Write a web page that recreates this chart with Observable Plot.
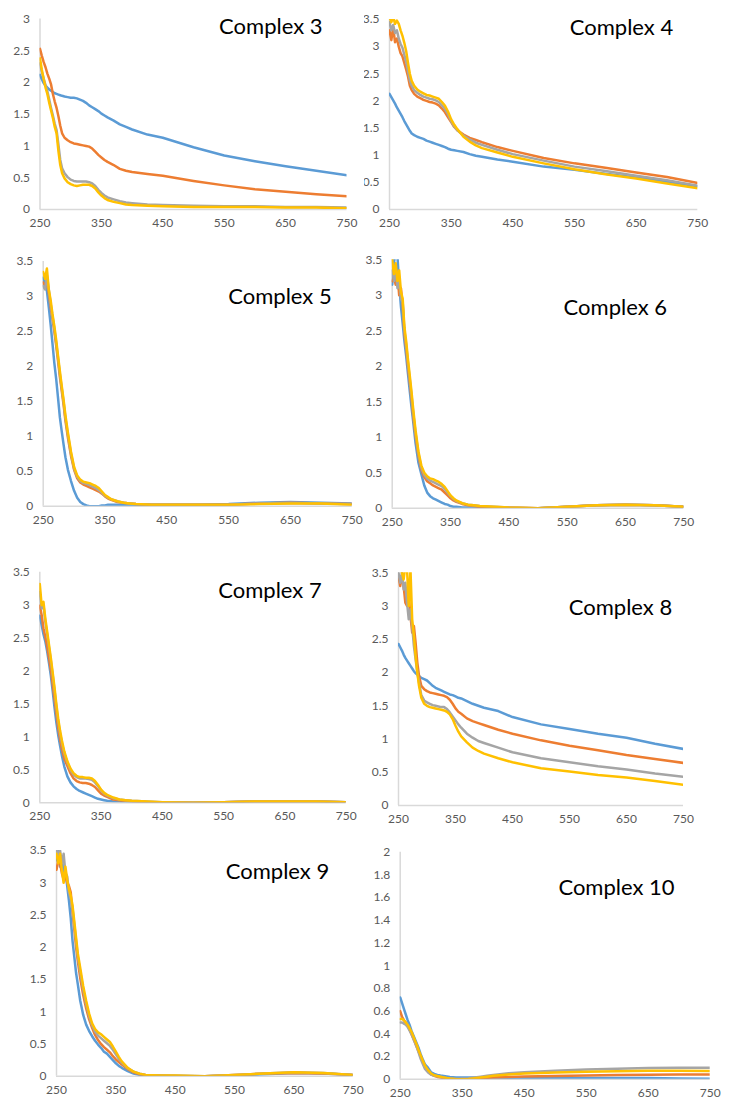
<!DOCTYPE html>
<html><head><meta charset="utf-8">
<script src="https://cdn.jsdelivr.net/npm/d3@7"></script>
<script src="https://cdn.jsdelivr.net/npm/@observablehq/plot@0.6"></script>
<style>
body{margin:0;background:#fff;}
#fig{position:relative;width:729px;height:1110px;overflow:hidden;background:#fff;}
.panel{position:absolute;}
#titles{position:absolute;left:0;top:0;pointer-events:none;}
</style></head><body><div id="fig"></div>
<script>
// ---------- data ----------
const WL = [250,253,256,259,262,265,268,271,274,277,280,283,286,290,295,300,305,310,315,320,325,330,335,340,345,350,355,360,370,380,390,400,425,450,500,550,600,650,700,750];
const xTicks = [250,350,450,550,650,750];
const yTicks3 = [0,0.5,1,1.5,2,2.5,3];
const yTicks35 = [0,0.5,1,1.5,2,2.5,3,3.5];
const yTicks2 = [0,0.2,0.4,0.6,0.8,1,1.2,1.4,1.6,1.8,2];
const titles = ["Complex 3","Complex 4","Complex 5","Complex 6","Complex 7","Complex 8","Complex 9","Complex 10"];

const c3Blue   = [2.12,2.05,1.99,1.95,1.92,1.89,1.87,1.85,1.83,1.82,1.81,1.80,1.79,1.78,1.77,1.76,1.76,1.75,1.73,1.71,1.68,1.64,1.61,1.58,1.55,1.51,1.48,1.45,1.40,1.34,1.30,1.26,1.18,1.13,0.98,0.85,0.76,0.68,0.61,0.54];
const c3Orange = [2.53,2.42,2.32,2.24,2.14,2.06,1.97,1.82,1.70,1.60,1.47,1.32,1.20,1.13,1.09,1.06,1.04,1.03,1.02,1.01,1.00,0.99,0.96,0.91,0.86,0.82,0.78,0.75,0.70,0.64,0.61,0.59,0.56,0.53,0.45,0.38,0.32,0.28,0.24,0.21];
const c3Grey   = [2.30,2.17,2.06,1.96,1.86,1.73,1.60,1.48,1.35,1.25,1.02,0.78,0.65,0.57,0.51,0.47,0.45,0.44,0.44,0.44,0.44,0.43,0.41,0.37,0.31,0.26,0.22,0.19,0.16,0.13,0.11,0.10,0.08,0.07,0.06,0.05,0.05,0.04,0.04,0.03];
const c3Yellow = [2.38,2.20,2.05,1.92,1.82,1.68,1.56,1.44,1.30,1.20,0.92,0.70,0.57,0.49,0.43,0.40,0.38,0.37,0.38,0.39,0.39,0.39,0.37,0.33,0.27,0.22,0.18,0.15,0.12,0.10,0.08,0.07,0.06,0.05,0.04,0.04,0.04,0.03,0.03,0.02];

const c4Blue   = [2.13,2.07,2.01,1.95,1.88,1.82,1.76,1.70,1.63,1.57,1.51,1.45,1.40,1.37,1.34,1.32,1.30,1.27,1.25,1.23,1.21,1.19,1.17,1.15,1.12,1.10,1.09,1.08,1.06,1.02,0.99,0.97,0.92,0.88,0.79,0.73,0.66,0.59,0.51,0.43];
const c4Orange = [3.30,3.12,3.35,3.08,3.15,3.00,2.88,2.82,2.70,2.58,2.45,2.28,2.20,2.13,2.08,2.05,2.02,2.00,1.98,1.97,1.95,1.92,1.86,1.79,1.70,1.61,1.52,1.46,1.38,1.32,1.28,1.24,1.15,1.08,0.95,0.85,0.77,0.68,0.60,0.49];
const c4Grey   = [3.45,3.30,3.40,3.25,3.30,3.15,3.05,2.98,2.85,2.72,2.55,2.38,2.28,2.20,2.15,2.11,2.08,2.06,2.04,2.03,2.01,1.98,1.92,1.85,1.75,1.63,1.53,1.46,1.36,1.29,1.23,1.19,1.10,1.02,0.90,0.79,0.71,0.62,0.54,0.44];
const c4Yellow = [3.55,3.45,3.55,3.42,3.48,3.42,3.30,3.20,3.07,2.92,2.70,2.50,2.37,2.28,2.21,2.17,2.14,2.11,2.10,2.08,2.06,2.04,1.98,1.91,1.80,1.66,1.56,1.48,1.34,1.25,1.18,1.13,1.05,0.97,0.85,0.74,0.65,0.57,0.48,0.39];

const c5Blue   = [3.27,3.15,3.08,2.85,2.60,2.33,2.05,1.82,1.55,1.27,1.07,0.88,0.70,0.52,0.36,0.22,0.12,0.06,0.03,0.01,0.00,0.00,0.00,0.00,0.01,0.01,0.02,0.02,0.02,0.02,0.02,0.02,0.02,0.02,0.02,0.03,0.05,0.06,0.05,0.04];
const c5Orange = [3.20,3.12,3.25,3.05,2.85,2.68,2.50,2.30,2.08,1.85,1.65,1.45,1.22,0.98,0.72,0.52,0.40,0.34,0.31,0.29,0.27,0.25,0.23,0.21,0.18,0.14,0.11,0.09,0.06,0.05,0.04,0.03,0.02,0.02,0.02,0.02,0.04,0.05,0.04,0.03];
const c5Grey   = [3.15,3.10,3.30,3.10,2.90,2.72,2.54,2.34,2.12,1.89,1.69,1.49,1.26,1.02,0.75,0.54,0.42,0.36,0.33,0.32,0.30,0.28,0.26,0.23,0.19,0.15,0.12,0.10,0.07,0.05,0.04,0.03,0.02,0.02,0.02,0.02,0.04,0.05,0.04,0.03];
const c5Yellow = [3.35,3.25,3.40,3.10,2.95,2.75,2.58,2.38,2.15,1.93,1.72,1.52,1.30,1.05,0.78,0.56,0.44,0.38,0.35,0.34,0.33,0.31,0.29,0.26,0.21,0.16,0.13,0.10,0.07,0.05,0.04,0.03,0.02,0.02,0.02,0.02,0.03,0.04,0.04,0.02];

const c6Blue   = [3.15,3.45,3.65,3.55,3.15,2.84,2.60,2.35,2.14,1.90,1.66,1.43,1.22,0.92,0.64,0.48,0.32,0.22,0.17,0.14,0.12,0.10,0.08,0.06,0.05,0.03,0.02,0.02,0.01,0.01,0.01,0.01,0.00,0.00,0.00,0.02,0.04,0.05,0.04,0.02];
const c6Orange = [3.20,3.25,3.15,3.30,3.00,3.10,2.85,2.45,2.25,2.00,1.78,1.55,1.30,1.02,0.74,0.54,0.44,0.38,0.35,0.32,0.30,0.28,0.26,0.22,0.18,0.14,0.11,0.09,0.06,0.04,0.03,0.02,0.01,0.01,0.00,0.02,0.04,0.05,0.04,0.02];
const c6Grey   = [3.35,3.20,3.40,3.10,3.25,2.95,2.90,2.50,2.30,2.05,1.83,1.60,1.35,1.06,0.77,0.57,0.47,0.42,0.39,0.37,0.35,0.33,0.31,0.27,0.22,0.17,0.13,0.10,0.07,0.05,0.04,0.03,0.02,0.01,0.00,0.02,0.04,0.05,0.04,0.02];
const c6Yellow = [3.50,3.30,3.45,3.20,3.35,3.05,2.95,2.55,2.35,2.10,1.88,1.65,1.40,1.10,0.80,0.60,0.50,0.45,0.42,0.41,0.39,0.37,0.34,0.30,0.24,0.18,0.14,0.11,0.07,0.05,0.04,0.03,0.02,0.01,0.00,0.02,0.04,0.05,0.04,0.02];

const c7Blue   = [2.84,2.70,2.56,2.45,2.30,2.12,1.93,1.70,1.45,1.22,1.03,0.87,0.72,0.55,0.40,0.31,0.25,0.21,0.18,0.16,0.14,0.12,0.10,0.08,0.06,0.05,0.04,0.03,0.02,0.02,0.01,0.01,0.00,0.00,0.00,0.01,0.02,0.02,0.02,0.01];
const c7Orange = [2.99,2.85,2.65,2.52,2.38,2.20,2.02,1.80,1.58,1.35,1.14,0.97,0.82,0.67,0.56,0.45,0.37,0.33,0.31,0.30,0.30,0.29,0.27,0.24,0.19,0.14,0.11,0.09,0.05,0.04,0.03,0.02,0.01,0.01,0.00,0.01,0.02,0.02,0.02,0.01];
const c7Grey   = [3.20,2.95,3.00,2.75,2.56,2.36,2.16,1.94,1.71,1.46,1.24,1.06,0.91,0.75,0.61,0.50,0.43,0.39,0.37,0.37,0.37,0.36,0.35,0.31,0.25,0.19,0.14,0.11,0.07,0.05,0.04,0.03,0.02,0.01,0.00,0.01,0.02,0.02,0.02,0.01];
const c7Yellow = [3.32,3.00,3.05,2.80,2.60,2.40,2.20,1.98,1.75,1.50,1.28,1.10,0.95,0.78,0.63,0.52,0.45,0.41,0.39,0.39,0.38,0.38,0.37,0.33,0.27,0.20,0.15,0.12,0.08,0.05,0.04,0.03,0.02,0.01,0.00,0.01,0.02,0.02,0.02,0.01];

const c8Blue   = [2.43,2.38,2.33,2.27,2.22,2.18,2.14,2.10,2.06,2.02,1.99,1.97,1.95,1.92,1.90,1.88,1.84,1.80,1.77,1.75,1.73,1.71,1.69,1.67,1.66,1.64,1.62,1.61,1.57,1.53,1.50,1.47,1.42,1.33,1.22,1.15,1.08,1.02,0.93,0.85];
const c8Orange = [3.45,3.30,3.45,3.30,3.05,3.00,3.15,2.85,2.60,2.70,2.45,2.15,1.95,1.80,1.75,1.72,1.70,1.69,1.68,1.67,1.66,1.65,1.63,1.59,1.53,1.46,1.41,1.38,1.31,1.27,1.24,1.21,1.14,1.08,0.98,0.90,0.83,0.76,0.70,0.64];
const c8Grey   = [3.50,3.35,3.50,3.25,3.35,3.05,2.80,2.95,2.70,2.40,2.20,2.00,1.85,1.66,1.58,1.55,1.53,1.51,1.50,1.49,1.48,1.48,1.45,1.40,1.34,1.28,1.22,1.17,1.08,1.02,0.97,0.94,0.87,0.80,0.71,0.65,0.59,0.54,0.48,0.43];
const c8Yellow = [3.55,3.60,3.50,3.40,3.60,3.55,3.00,3.55,2.80,2.55,2.25,2.00,1.80,1.62,1.53,1.50,1.48,1.47,1.46,1.45,1.44,1.43,1.41,1.37,1.30,1.20,1.11,1.04,0.95,0.87,0.82,0.78,0.71,0.65,0.56,0.51,0.46,0.42,0.37,0.31];

const c9Blue   = [3.35,3.50,3.25,3.40,3.10,3.20,2.95,2.72,2.45,2.10,1.85,1.60,1.42,1.17,0.95,0.80,0.70,0.62,0.55,0.49,0.44,0.38,0.35,0.30,0.25,0.20,0.16,0.13,0.08,0.04,0.02,0.01,0.00,0.00,0.00,0.01,0.03,0.05,0.04,0.02];
const c9Orange = [3.20,3.35,3.30,3.15,3.05,3.10,3.00,2.95,2.85,2.55,2.28,2.00,1.78,1.52,1.26,1.05,0.88,0.75,0.64,0.56,0.50,0.45,0.41,0.37,0.31,0.26,0.22,0.18,0.11,0.06,0.03,0.02,0.01,0.00,0.00,0.02,0.04,0.05,0.04,0.02];
const c9Grey   = [3.55,3.40,3.50,3.30,3.45,3.15,3.10,2.85,2.75,2.60,2.35,2.10,1.85,1.62,1.35,1.12,0.93,0.79,0.69,0.63,0.59,0.55,0.51,0.47,0.41,0.34,0.27,0.21,0.12,0.07,0.04,0.02,0.01,0.01,0.00,0.02,0.04,0.06,0.05,0.02];
const c9Yellow = [3.45,3.30,3.45,3.20,3.00,3.25,3.05,2.90,2.80,2.65,2.40,2.15,1.90,1.68,1.40,1.17,0.97,0.82,0.73,0.68,0.65,0.61,0.57,0.53,0.46,0.38,0.30,0.23,0.13,0.07,0.04,0.02,0.01,0.01,0.00,0.02,0.04,0.06,0.05,0.02];

const c10Blue   = [0.72,0.67,0.62,0.57,0.52,0.48,0.43,0.39,0.35,0.31,0.27,0.22,0.18,0.13,0.10,0.06,0.046,0.038,0.032,0.028,0.024,0.02,0.018,0.016,0.015,0.014,0.014,0.014,0.014,0.014,0.014,0.014,0.013,0.012,0.011,0.01,0.01,0.01,0.007,0.005];
const c10Orange = [0.60,0.55,0.52,0.50,0.47,0.44,0.40,0.36,0.32,0.28,0.24,0.20,0.16,0.11,0.07,0.04,0.03,0.02,0.015,0.01,0.005,0,0,0,0,0,0,0,0.003,0.008,0.012,0.016,0.02,0.024,0.028,0.033,0.037,0.04,0.041,0.041];
const c10Grey   = [0.50,0.50,0.49,0.48,0.46,0.43,0.40,0.36,0.32,0.28,0.23,0.18,0.14,0.09,0.06,0.04,0.03,0.025,0.02,0.015,0.01,0.008,0.006,0.005,0.005,0.006,0.007,0.009,0.015,0.022,0.03,0.038,0.052,0.062,0.075,0.085,0.093,0.098,0.10,0.10];
const c10Yellow = [0.53,0.53,0.52,0.50,0.48,0.45,0.42,0.38,0.34,0.30,0.25,0.21,0.17,0.12,0.08,0.05,0.035,0.028,0.022,0.016,0.01,0.006,0.003,0,0,0,0,0.002,0.008,0.015,0.022,0.03,0.042,0.05,0.058,0.065,0.07,0.074,0.074,0.072];

// ---------- styling / layout (not data) ----------
const seriesColors = ["#5B9BD5","#ED7D31","#A5A5A5","#FFC000"];
const panels = [
  {series:[c3Blue,c3Orange,c3Grey,c3Yellow], yTicks:yTicks3},
  {series:[c4Blue,c4Orange,c4Grey,c4Yellow], yTicks:yTicks35},
  {series:[c5Blue,c5Orange,c5Grey,c5Yellow], yTicks:yTicks35},
  {series:[c6Blue,c6Orange,c6Grey,c6Yellow], yTicks:yTicks35},
  {series:[c7Blue,c7Orange,c7Grey,c7Yellow], yTicks:yTicks35},
  {series:[c8Blue,c8Orange,c8Grey,c8Yellow], yTicks:yTicks35},
  {series:[c9Blue,c9Orange,c9Grey,c9Yellow], yTicks:yTicks35},
  {series:[c10Blue,c10Orange,c10Grey,c10Yellow], yTicks:yTicks2}
];
const layout = [
  {left:0,   xL:39.5,  xR:346.5, yT:18.5,  yB:209,    tx:270.8, tb:34.3},
  {left:364, xL:389,   xR:697.3, yT:19,    yB:209,    tx:621.5, tb:35},
  {left:0,   xL:42.7,  xR:351.7, yT:261,   yB:505.7,  tx:280,   tb:304.3},
  {left:364, xL:391.7, xR:683.3, yT:259.3, yB:507.7,  tx:615.3, tb:315},
  {left:0,   xL:39.3,  xR:345.7, yT:571.7, yB:802.3,  tx:270,   tb:598.3},
  {left:364, xL:398,   xR:683,   yT:572.3, yB:805,    tx:620.5, tb:615},
  {left:0,   xL:56,    xR:352.7, yT:850,   yB:1075.7, tx:277.5, tb:879},
  {left:364, xL:399.7, xR:709.7, yT:851.7, yB:1078.7, tx:616.5, tb:895}
];

const fig = document.getElementById("fig");
panels.forEach((p, k) => {
  const L = layout[k];
  const top = Math.floor(L.yT - 10);
  const marginLeft = L.xL - L.left;
  const marginTop = L.yT - top;
  const width = Math.ceil(L.xR + 16 - L.left);
  const height = Math.ceil(L.yB + 28 - top);
  const marginRight = width - (L.xR - L.left);
  const marginBottom = height - (L.yB - top);
  const ymax = p.yTicks[p.yTicks.length - 1];
  const lines = p.series.map((arr, s) =>
    Plot.line(WL.map((w, i) => ({w, v: arr[i]})), {
      x: "w", y: "v", stroke: seriesColors[s], strokeWidth: 2.5,
      strokeLinejoin: "round", strokeLinecap: "round", clip: true
    })
  );
  const chart = Plot.plot({
    width, height, marginLeft, marginRight, marginTop, marginBottom,
    x: {domain: [250, 750]},
    y: {domain: [0, ymax]},
    style: {fontFamily: "Lato, 'Open Sans', sans-serif", fontSize: "12px", color: "#595959", background: "transparent"},
    marks: [
      Plot.ruleX([250], {stroke: "#d9d9d9", strokeWidth: 1.5}),
      Plot.ruleY([0], {stroke: "#d9d9d9", strokeWidth: 1.5}),
      Plot.axisX({ticks: xTicks, tickSize: 0, tickPadding: 9, tickFormat: d => String(d), label: null}),
      Plot.axisY({ticks: p.yTicks, tickSize: 0, tickPadding: 10, tickFormat: d => String(d), label: null}),
      ...lines
    ]
  });
  chart.classList.add("panel");
  chart.style.left = L.left + "px";
  chart.style.top = top + "px";
  fig.appendChild(chart);
});

// titles
const tsvg = d3.select(fig).append("svg").attr("id", "titles").attr("width", 729).attr("height", 1110);
layout.forEach((L, k) => {
  tsvg.append("text").attr("x", L.tx).attr("y", L.tb).attr("text-anchor", "middle")
    .attr("font-family", "Lato, 'Open Sans', sans-serif").attr("font-size", 22).attr("fill", "#000")
    .text(titles[k]);
});
</script></body></html>
